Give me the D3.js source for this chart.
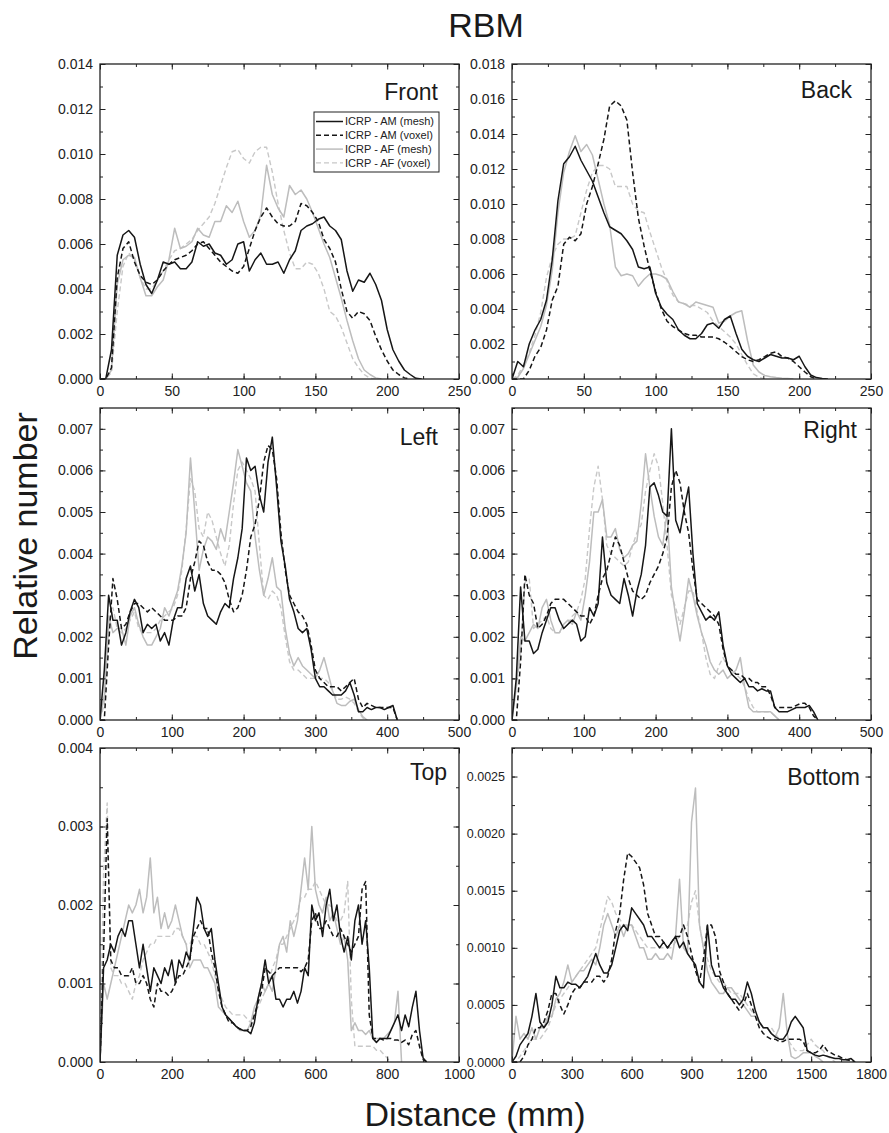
<!DOCTYPE html>
<html>
<head>
<meta charset="utf-8">
<title>RBM</title>
<script src="https://d3js.org/d3.v7.min.js"></script>
<style>
  body { margin: 0; background: #fff; }
  text { font-family: "Liberation Sans", Arial, Helvetica, sans-serif; }
</style>
</head>
<body>
<div id="chart"></div>
<script>
// values are relative numbers in units of 1e-4, sampled every `sampleStep` mm from 0
var UNIT = 1e-4;

var seriesNames = ["ICRP - AM (mesh)", "ICRP - AM (voxel)", "ICRP - AF (mesh)", "ICRP - AF (voxel)"];
var panelNames = ["Front", "Back", "Left", "Right", "Top", "Bottom"];
var sampleStep = [4, 4, 6, 6, 10, 20];
var xMax = [250, 250, 500, 500, 1000, 1800];
var xTickStep = [50, 50, 100, 100, 200, 300];
var yMax = [0.014, 0.018, 0.0075, 0.0075, 0.004, 0.00275];
var yTickStep = [0.002, 0.002, 0.001, 0.001, 0.001, 0.0005];
var yTickFormat = [".3f", ".3f", ".3f", ".3f", ".3f", ".4f"];

// Front (step 4 mm)
var frontAMmesh = [0, 0, 13, 55, 64, 66, 63, 51, 42, 38,
  44, 52, 51, 52, 49, 49, 52, 61, 59, 60,
  56, 55, 51, 53, 60, 61, 48, 53, 56, 51,
  51, 52, 47, 53, 57, 66, 68, 69, 71, 72,
  68, 66, 62, 48, 39, 44, 43, 47, 42, 35,
  22, 13, 8, 4, 2, 0.3, 0];
var frontAMvoxel = [0, 0, 5, 45, 58, 61, 52, 46, 43, 42,
  44, 48, 51, 53, 54, 55, 57, 60, 61, 58,
  55, 52, 50, 48, 47, 50, 58, 66, 72, 76,
  72, 69, 68, 68, 70, 78, 77, 74, 70, 62,
  58, 52, 40, 30, 27, 30, 29, 26, 19, 13,
  8, 4, 2, 0.5, 0];
var frontAFmesh = [0, 0, 4, 42, 53, 55, 54, 45, 37, 37,
  41, 44, 53, 67, 58, 59, 61, 67, 64, 63,
  70, 70, 77, 74, 79, 70, 63, 66, 73, 95,
  82, 76, 72, 86, 82, 84, 80, 74, 67, 60,
  54, 45, 36, 26, 17, 9, 4, 2, 0.5, 0];
var frontAFvoxel = [0, 0, 3, 30, 50, 56, 53, 45, 40, 40,
  44, 48, 53, 57, 58, 60, 62, 66, 69, 72,
  78, 86, 94, 101, 102, 98, 96, 101, 103, 103,
  92, 78, 66, 56, 49, 49, 52, 51, 47, 40,
  30, 28, 23, 16, 9, 5, 2, 0.3, 0];

// Back (step 4 mm)
var backAMmesh = [0, 10, 7, 20, 28, 34, 45, 68, 102, 123,
  127, 133, 125, 119, 113, 104, 95, 87, 85, 83,
  79, 74, 64, 63, 64, 49, 41, 37, 34, 28,
  25, 23, 23, 26, 31, 32, 29, 34, 36, 26,
  17, 13, 11, 10, 12, 14, 13, 12, 12, 11,
  13, 7, 2.3, 0.8, 0.3, 0];
var backAMvoxel = [0, 0, 0, 5, 13, 18, 28, 45, 53, 77,
  81, 79, 83, 100, 110, 123, 137, 156, 159, 156,
  148, 118, 92, 76, 62, 50, 40, 33, 30, 28,
  26, 25, 25, 24, 24, 24, 23, 21, 18.5, 15.6,
  12.8, 11, 10, 11, 12.8, 14.7, 15.6, 12.8, 12, 10,
  7, 4, 1.3, 0];
var backAFmesh = [0, 1, 6, 14, 22, 30, 42, 62, 95, 118,
  130, 139, 130, 134, 128, 114, 100, 88, 64, 59,
  60, 59, 53, 57, 60, 60, 59, 57, 50, 44,
  43, 41, 44, 43, 42, 41, 32, 33, 36, 38,
  39, 22, 8, 4, 2, 1.3, 0.8, 0.5, 0.3, 0];
var backAFvoxel = [0, 2, 8, 15, 25, 38, 58, 70, 77, 80,
  80, 82, 95, 108, 118, 122, 122, 120, 110, 110,
  110, 100, 96, 95, 84, 74, 64, 56, 48, 44,
  43, 42, 42, 40, 38, 33, 30, 27, 24, 20,
  14, 8, 3, 1, 0];

// Left (step 6 mm)
var leftAMmesh = [0, 12, 30, 24, 24, 18, 21, 26, 29, 27,
  21, 23, 22, 23, 19, 21, 18, 24, 27, 27,
  34, 37, 31, 35, 28, 25, 24, 23, 26, 28,
  27, 34, 39, 46, 63, 60, 61, 54, 50, 62,
  68, 56, 43, 37, 29, 26, 22, 21, 22, 17,
  10, 8, 8, 7, 6, 6, 6, 7, 9, 6,
  2, 2, 3, 2.5, 3, 3, 2.5, 3, 3.5, 0];
var leftAMvoxel = [0, 0, 18, 34, 29, 22, 23, 26, 28, 28,
  27, 26, 27, 26, 25, 24, 24, 24, 25, 25,
  27, 34, 38, 43, 42, 38, 36, 36, 35, 33,
  29, 26, 27, 30, 36, 44, 47, 53, 62, 66,
  65, 58, 45, 36, 30, 28, 26, 25, 23, 18,
  12, 10, 9, 8, 8, 8, 7, 8, 9, 10,
  5, 3, 4, 3.5, 3, 3, 3, 3, 3, 0];
var leftAFmesh = [0, 6, 25, 21, 22, 22, 18, 25, 27, 23,
  20, 18, 18, 20, 22, 27, 25, 28, 31, 37,
  45, 63, 50, 36, 41, 44, 43, 41, 46, 43,
  50, 57, 65, 61, 57, 55, 44, 36, 30, 34,
  39, 32, 31, 22, 16, 13, 15, 13, 12, 11,
  10, 12, 15, 11, 7, 4, 3.5, 3.5, 4.5, 5,
  2.5, 0.8, 0];
var leftAFvoxel = [0, 4, 22, 27, 22, 21, 22, 24, 26, 22,
  21, 21, 21, 22, 24, 25, 26, 27, 30, 36,
  46, 58, 55, 46, 44, 50, 48, 44, 40, 37,
  42, 52, 60, 62, 60, 58, 55, 42, 30, 29,
  31, 30, 27, 20, 14, 12, 12, 11, 10, 10,
  10, 10, 10, 9, 7, 5, 5, 5.5, 5, 4,
  2, 0.5, 0];

// Right (step 6 mm)
var rightAMmesh = [0, 10, 32, 19, 19, 16, 17, 21, 24, 27,
  27, 24, 22, 23, 24, 23, 19, 20, 27, 25,
  28, 44, 33, 30, 29, 28, 34, 30, 25, 31,
  35, 42, 56, 57, 54, 50, 49, 70, 48, 45,
  51, 56, 40, 28, 26, 24, 25, 24, 26, 18,
  13, 11, 10, 9, 10, 8, 8, 7, 7.5, 7,
  7, 3, 2, 2, 2, 2.5, 3, 3, 3, 3.5,
  2, 0];
var rightAMvoxel = [0, 0, 14, 35, 30, 28, 22, 23, 25, 28,
  29, 29, 29, 28, 27, 26, 25, 25, 23, 25,
  30, 34, 36, 40, 44, 42, 38, 34, 31, 30,
  29, 30, 33, 35, 37, 40, 44, 56, 60, 57,
  50, 45, 36, 29, 28, 27, 26, 25, 23, 17,
  13, 12, 11, 11, 10, 10, 9, 9, 8, 8,
  6, 3, 3, 3, 3, 3, 3.5, 4, 4, 3,
  1, 0];
var rightAFmesh = [0, 8, 20, 19, 21, 23, 22, 27, 29, 24,
  21, 21, 23, 24, 23, 26, 24, 30, 38, 50,
  50, 53, 44, 44, 46, 41, 39, 40, 42, 43,
  52, 64, 56, 49, 44, 42, 50, 32, 25, 19,
  26, 34, 30, 25, 21, 18, 14, 12, 11, 12,
  10, 11, 12, 15, 8, 3, 2, 2, 2, 2,
  2, 1, 0];
var rightAFvoxel = [0, 8, 16, 33, 34, 22, 23, 24, 25, 22,
  21, 21, 22, 23, 25, 26, 29, 34, 46, 56,
  61, 53, 42, 40, 39, 38, 37, 38, 42, 45,
  47, 55, 60, 64, 61, 52, 42, 30, 27, 23,
  27, 31, 31, 26, 21, 15, 11, 10, 13, 15,
  13, 12, 11, 10, 8, 5, 3, 2, 2, 2,
  2, 1, 0];

// Top (step 10 mm)
var topAMmesh = [0, 12, 13, 15, 14, 16, 17, 16, 18, 18,
  15, 12, 15, 12, 9, 12, 11, 10, 12, 11,
  13, 10, 13, 12, 14, 13, 17, 21, 20, 17,
  16, 17, 13, 10, 7, 6, 5.5, 5, 4.5, 4.2,
  4, 4, 3.6, 5, 8, 10, 13, 10, 11, 8,
  8, 7, 8, 8, 9, 7.5, 9, 12, 11, 20,
  18, 19, 16, 20, 22, 18, 20, 16, 14, 16,
  13, 18, 20, 15, 18, 12, 3, 2.5, 3, 3,
  3, 4, 5, 6, 4, 6, 4.5, 7, 9, 4,
  0.5, 0];
var topAMvoxel = [0, 14, 31, 13, 12, 12, 11, 11, 11, 12,
  10, 10, 11, 10, 8, 7, 10, 9, 9, 8.5,
  9, 10, 11, 11, 12, 13, 16, 17, 18, 17,
  17, 14, 12, 9, 7, 6, 5, 5, 4.5, 4.2,
  4, 4, 4.5, 6, 7.5, 9, 12, 11.5, 11, 11.5,
  12, 12, 12, 12, 12, 12, 11.5, 12, 13, 18,
  19, 17, 17, 18, 17, 16, 16, 17, 16, 15,
  14, 15, 16, 22, 23, 6, 3, 3, 3, 2.8,
  3, 3, 2.8, 2.8, 2.5, 2.8, 2.2, 3.5, 4, 2,
  0.3, 0];
var topAFmesh = [0, 10, 8, 10, 12, 14, 16, 18, 20, 19,
  20, 22, 19, 21, 26, 19, 21, 17, 19, 17,
  18, 20, 18, 16, 15, 12, 13, 13, 13, 12,
  12, 11, 10, 7, 6.5, 6, 5.5, 5, 4.5, 4,
  4, 4, 5, 7, 8, 10, 9, 10, 9, 12,
  15, 16, 14, 18, 16, 18, 22, 26, 22, 30,
  22, 20, 19, 21, 18, 19, 17, 15, 16, 13,
  4, 5, 4, 4, 3.5, 4, 3, 3, 3, 3,
  3.5, 4, 5, 9, 0];
var topAFvoxel = [0, 24, 33, 12, 11, 11, 10, 10, 9, 8,
  10, 11, 13, 14, 15, 15, 16, 16, 16, 16,
  16, 17, 17, 16, 15, 15, 16, 16, 15, 15,
  14, 13, 11, 9, 8, 7, 6.5, 6, 6, 6,
  6, 5.5, 5, 6, 7, 8, 9, 10, 12, 13,
  15, 15, 16, 17, 18, 19, 21, 21, 22, 22,
  23, 22, 21, 20, 20, 19, 18, 18, 19, 23,
  8, 2, 2, 2, 2, 2, 2, 1.5, 1.5, 1,
  0.5, 0];

// Bottom (step 20 mm)
var bottomAMmesh = [0, 0.5, 1.5, 2, 2.5, 4, 6, 3.5, 3, 3.5,
  5, 7.5, 6.5, 6.5, 7, 6.8, 6.8, 6.5, 7, 7.5,
  8.5, 9.5, 8.5, 7.8, 7.8, 8.5, 10, 11.5, 12, 11.5,
  13.5, 13, 12.5, 12, 11, 11, 10.5, 10, 10.5, 10,
  10.5, 11, 10, 10.5, 9.5, 9, 8.5, 7, 6.5, 12,
  8.5, 7.5, 7.5, 6.5, 6, 5.5, 5.5, 5, 5.5, 7,
  6, 4.5, 3.5, 3, 3, 2.5, 2.2, 2, 2, 2.5,
  3.5, 4, 3.5, 3, 1, 0.8, 0.6, 0.5, 0.6, 0.5,
  0.4, 0.3, 0.3, 0.2, 0.2, 0.3, 0];
var bottomAMvoxel = [0, 0, 0, 0.5, 1.5, 2, 3, 3, 3.5, 4.5,
  6, 6, 5, 4.2, 5, 6, 6.5, 6.5, 7, 7,
  7, 7.5, 7.5, 7, 7.5, 9, 11.5, 13, 16, 18.3,
  18, 17.5, 17, 15.5, 13, 12, 11, 11, 10.5, 10,
  10.5, 11, 11, 12, 11, 9.5, 8, 7, 9, 12,
  12, 11, 8, 7, 6, 5.5, 5, 4.5, 5, 6,
  5, 4, 3, 2.5, 2.2, 2, 2, 1.8, 1.8, 2,
  2, 2, 2, 1.8, 1, 0.8, 0.8, 1, 1.5, 1,
  0.8, 0.6, 0.5, 0.3, 0.2, 0.1, 0];
var bottomAFmesh = [0, 4, 2, 2.5, 2, 3, 2, 3, 3, 4,
  4, 5.5, 6, 7, 8.5, 7, 7.5, 8, 8, 8.5,
  9, 8.5, 10, 12, 13, 12, 11, 12, 11, 12,
  12, 11, 10, 10, 9, 9, 9.5, 9, 9, 9.5,
  9, 11, 16, 10, 9.5, 21, 24, 12, 10, 8,
  7, 6.5, 6, 6, 6.5, 6.5, 6, 5.5, 5, 4.5,
  4, 4, 3.5, 3, 3, 2.5, 2.2, 3, 6, 2.5,
  0.5, 0.3, 0.5, 0.8, 0.8, 0.8, 0.5, 0.3, 0];
var bottomAFvoxel = [0, 0, 0.5, 1, 1.5, 2, 2, 2, 2.5, 3,
  4, 5, 5.5, 6, 6.5, 7, 7.5, 8, 8.5, 9,
  9.5, 10, 11.5, 13, 14.5, 14, 13, 12.5, 12, 12,
  12, 11.5, 11, 10.5, 10, 10, 10, 10, 10, 10,
  10, 10.5, 11, 11.5, 12, 14, 15, 12, 10, 9,
  8, 7.5, 7, 7, 6.5, 6, 6, 6, 5.5, 5,
  4.5, 4, 3.5, 3, 3, 3, 2.5, 2, 2, 2,
  1.5, 1, 1, 1, 1.5, 2, 1.5, 1.2, 1, 0.5,
  0.3, 0];

var panelSeries = [
  [frontAMmesh, frontAMvoxel, frontAFmesh, frontAFvoxel],
  [backAMmesh, backAMvoxel, backAFmesh, backAFvoxel],
  [leftAMmesh, leftAMvoxel, leftAFmesh, leftAFvoxel],
  [rightAMmesh, rightAMvoxel, rightAFmesh, rightAFvoxel],
  [topAMmesh, topAMvoxel, topAFmesh, topAFvoxel],
  [bottomAMmesh, bottomAMvoxel, bottomAFmesh, bottomAFvoxel]
];

// ---- layout ----
var width = 889, height = 1133;
var colX = [100, 512], colW = 359;
var rowY = [64, 408, 748], rowH = [315, 312, 314];
var titleOffset = [[-21, 36], [-19, 34], [-21, 37], [-14, 30], [-12, 32], [-11, 37]];
var yLabelSize = [14, 14, 14, 14, 14, 12.5];

var seriesStyle = [
  { stroke: "#161616", dash: null, width: 1.5 },
  { stroke: "#161616", dash: "5,3", width: 1.5 },
  { stroke: "#bdbdbd", dash: null, width: 1.5 },
  { stroke: "#c8c8c8", dash: "5,3", width: 1.4 }
];
var drawOrder = [3, 2, 1, 0];

var svg = d3.select("#chart").append("svg")
  .attr("width", width).attr("height", height)
  .style("background", "#fff");

function styleAxis(a, size) {
  a.attr("font-family", null).attr("font-size", size);
  a.select(".domain").remove();
  a.selectAll("line").attr("stroke", "#222").attr("stroke-width", 1);
  a.selectAll("text").attr("fill", "#222");
}

panelSeries.forEach(function (series, k) {
  var col = k % 2, row = Math.floor(k / 2);
  var w = colW, h = rowH[row];
  var g = svg.append("g").attr("transform", "translate(" + colX[col] + "," + rowY[row] + ")");

  var x = d3.scaleLinear().domain([0, xMax[k]]).range([0, w]);
  var y = d3.scaleLinear().domain([0, yMax[k]]).range([h, 0]);

  var xMajor = d3.range(0, xMax[k] + xTickStep[k] / 100, xTickStep[k]);
  var xMinor = d3.range(0, xMax[k] + xTickStep[k] / 100, xTickStep[k] / 2);
  var yMajor = d3.range(0, yMax[k] + yTickStep[k] / 100, yTickStep[k]);
  var yMinor = d3.range(0, yMax[k] + yTickStep[k] / 100, yTickStep[k] / 2);

  // clip
  var clipId = "clip" + k;
  g.append("clipPath").attr("id", clipId)
    .append("rect").attr("width", w).attr("height", h);

  // lines
  var line = d3.line()
    .x(function (d, i) { return x(i * sampleStep[k]); })
    .y(function (d) { return y(d * UNIT); });

  var lines = g.append("g").attr("clip-path", "url(#" + clipId + ")");
  drawOrder.forEach(function (s) {
    var st = seriesStyle[s];
    lines.append("path")
      .datum(series[s])
      .attr("d", line)
      .attr("fill", "none")
      .attr("stroke", st.stroke)
      .attr("stroke-width", st.width)
      .attr("stroke-dasharray", st.dash)
      .attr("stroke-linejoin", "round");
  });

  // axes: bottom (labels), top mirror, left (labels), right mirror
  var ax;
  ax = g.append("g").attr("transform", "translate(0," + h + ")")
    .call(d3.axisBottom(x).tickValues(xMinor).tickSize(-3).tickFormat(""));
  styleAxis(ax, 14);
  ax = g.append("g").attr("transform", "translate(0," + h + ")")
    .call(d3.axisBottom(x).tickValues(xMajor).tickSize(-5.5).tickPadding(7).tickFormat(d3.format("d")));
  styleAxis(ax, 14);

  ax = g.append("g").call(d3.axisTop(x).tickValues(xMinor).tickSize(-3).tickFormat(""));
  styleAxis(ax, 14);
  ax = g.append("g").call(d3.axisTop(x).tickValues(xMajor).tickSize(-5.5).tickFormat(""));
  styleAxis(ax, 14);

  ax = g.append("g").call(d3.axisLeft(y).tickValues(yMinor).tickSize(-3).tickFormat(""));
  styleAxis(ax, yLabelSize[k]);
  ax = g.append("g").call(d3.axisLeft(y).tickValues(yMajor).tickSize(-5.5).tickPadding(7)
    .tickFormat(d3.format(yTickFormat[k])));
  styleAxis(ax, yLabelSize[k]);

  ax = g.append("g").attr("transform", "translate(" + w + ",0)")
    .call(d3.axisRight(y).tickValues(yMinor).tickSize(-3).tickFormat(""));
  styleAxis(ax, 14);
  ax = g.append("g").attr("transform", "translate(" + w + ",0)")
    .call(d3.axisRight(y).tickValues(yMajor).tickSize(-5.5).tickFormat(""));
  styleAxis(ax, 14);

  // frame
  g.append("rect")
    .attr("width", w).attr("height", h)
    .attr("fill", "none").attr("stroke", "#222").attr("stroke-width", 1.3);

  // panel name
  g.append("text")
    .attr("x", w + titleOffset[k][0])
    .attr("y", titleOffset[k][1])
    .attr("text-anchor", "end")
    .attr("font-size", 23)
    .attr("fill", "#1a1a1a")
    .text(panelNames[k]);

  // legend in the first panel
  if (k === 0) {
    var lg = g.append("g").attr("transform", "translate(214,48)");
    lg.append("rect").attr("width", 125).attr("height", 60)
      .attr("fill", "#fff").attr("stroke", "#222").attr("stroke-width", 1);
    seriesNames.forEach(function (name, s) {
      var st = seriesStyle[s];
      var ry = 9.5 + s * 13.8;
      lg.append("line")
        .attr("x1", 2).attr("x2", 29).attr("y1", ry).attr("y2", ry)
        .attr("stroke", st.stroke).attr("stroke-width", st.width)
        .attr("stroke-dasharray", st.dash);
      lg.append("text")
        .attr("x", 31).attr("y", ry).attr("dy", "0.35em")
        .attr("font-size", 11).attr("fill", "#222")
        .text(name);
    });
  }
});

// figure titles
svg.append("text")
  .attr("x", 486).attr("y", 37)
  .attr("text-anchor", "middle")
  .attr("font-size", 34).attr("fill", "#1a1a1a")
  .text("RBM");

svg.append("text")
  .attr("transform", "translate(37,536) rotate(-90)")
  .attr("text-anchor", "middle")
  .attr("font-size", 34).attr("fill", "#1a1a1a")
  .text("Relative number");

svg.append("text")
  .attr("x", 475).attr("y", 1126)
  .attr("text-anchor", "middle")
  .attr("font-size", 34).attr("fill", "#1a1a1a")
  .text("Distance (mm)");
</script>
</body>
</html>
